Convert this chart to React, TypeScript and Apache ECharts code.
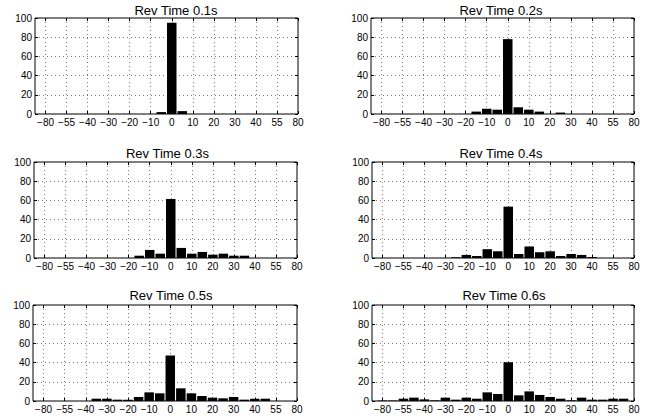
import React, { useEffect, useRef } from "react";
import * as echarts from "echarts";

// ---- data ----
const TITLES = [
  "Rev Time 0.1s",
  "Rev Time 0.2s",
  "Rev Time 0.3s",
  "Rev Time 0.4s",
  "Rev Time 0.5s",
  "Rev Time 0.6s",
];

const X_TICK_LABELS = ["−80", "−55", "−40", "−30", "−20", "−10", "0", "10", "20", "30", "40", "55", "80"];
const X_TICK_POS = [-12, -10, -8, -6, -4, -2, 0, 2, 4, 6, 8, 10, 12];
const BIN_POS = [-12, -11, -10, -9, -8, -7, -6, -5, -4, -3, -2, -1, 0, 1, 2, 3, 4, 5, 6, 7, 8, 9, 10, 11, 12];

//                 -12 -11 -10 -9  -8  -7  -6  -5  -4  -3   -2   -1    0     1     2    3    4    5    6    7    8    9   10   11  12
const REV_01 = [0, 0, 0, 0, 0, 0, 0, 0, 0, 0, 0, 2, 95, 3, 0, 0, 0, 0, 0, 0, 0, 0, 0, 0, 0];
const REV_02 = [0, 0, 0, 0, 0, 0, 0, 0, 0, 2.5, 5.5, 4.5, 78, 7, 4.5, 2.5, 0, 1.5, 0, 0, 0, 0, 0, 0, 0];
const REV_03 = [0, 0, 0, 0, 0, 0, 0, 0, 0, 2.4, 8.4, 4.5, 61.5, 10.5, 4.5, 6.3, 3.5, 4.5, 2.4, 2.4, 0, 0, 0, 0, 0];
const REV_04 = [0, 0, 0, 0, 0, 0, 0, 0.7, 3.2, 2.1, 9.2, 7, 53.5, 4.2, 12, 6, 7, 2.1, 4.2, 3.2, 1, 0, 0, 0, 0];
const REV_05 = [0, 0, 0, 0, 0, 2.4, 2.4, 1.4, 1.4, 4.2, 9, 8, 47.4, 13.2, 8, 5.2, 3.5, 2.8, 4.2, 1.4, 2.4, 2.4, 0, 0, 0];
const REV_06 = [0.5, 0.5, 2.4, 3.5, 1.7, 0.7, 3.5, 1.4, 3.5, 2.4, 9, 7.3, 40.4, 5.9, 10, 6.3, 4.2, 2.4, 0.7, 3.5, 1.4, 1.4, 2.4, 2.4, 0];

const SERIES_VALUES = [REV_01, REV_02, REV_03, REV_04, REV_05, REV_06];

// ---- layout ----
const GRID_BOXES = [
  { left: 35, top: 18, width: 263, height: 96 },
  { left: 371, top: 18, width: 263, height: 96 },
  { left: 34, top: 162, width: 263, height: 96 },
  { left: 372, top: 162, width: 262, height: 96 },
  { left: 33, top: 305, width: 264, height: 96 },
  { left: 372, top: 305, width: 262, height: 96 },
];
const TITLE_POS = [
  { x: 176, y: 10 },
  { x: 501, y: 10 },
  { x: 167.5, y: 153 },
  { x: 501, y: 153 },
  { x: 171, y: 295 },
  { x: 504, y: 295 },
];

const FONT = "'Liberation Sans', Arial, Helvetica, sans-serif";

function labelFor(v: number): string {
  const i = X_TICK_POS.indexOf(Math.round(v));
  return i >= 0 ? X_TICK_LABELS[i] : "";
}

export default function App() {
  const ref = useRef<HTMLDivElement>(null);

  useEffect(() => {
    if (!ref.current) return;
    const chart = echarts.init(ref.current, undefined, { renderer: "svg" });

    const grid: any[] = [];
    const xAxis: any[] = [];
    const yAxis: any[] = [];
    const series: any[] = [];
    const graphic: any[] = [];

    const gridLine = { show: true, lineStyle: { color: "#777", type: [1, 3], width: 1 } };
    const noLine = { show: false, onZero: false };
    const tick = { show: true, inside: true, length: 3, lineStyle: { color: "#000" } };

    GRID_BOXES.forEach((g, i) => {
      grid.push({
        ...g,
        show: true,
        borderColor: "#000",
        borderWidth: 1,
        backgroundColor: "#fff",
        containLabel: false,
      });
      xAxis.push({
        type: "value",
        gridIndex: i,
        min: -13,
        max: 12,
        axisLine: noLine,
        axisTick: { ...tick, customValues: X_TICK_POS },
        axisLabel: {
          show: true,
          customValues: X_TICK_POS,
          formatter: (v: number) => labelFor(v),
          color: "#000",
          fontSize: 10,
          fontFamily: FONT,
          margin: 3,
        },
        splitLine: gridLine,
      });
      xAxis.push({
        type: "value",
        gridIndex: i,
        position: "top",
        min: -13,
        max: 12,
        axisLine: noLine,
        axisTick: { ...tick, customValues: X_TICK_POS },
        axisLabel: { show: false, customValues: X_TICK_POS },
        splitLine: { show: false },
      });
      yAxis.push({
        type: "value",
        gridIndex: i,
        position: "left",
        min: 0,
        max: 100,
        interval: 20,
        axisLine: noLine,
        axisTick: tick,
        axisLabel: { color: "#000", fontSize: 10, fontFamily: FONT, margin: 3 },
        splitLine: gridLine,
      });
      yAxis.push({
        type: "value",
        gridIndex: i,
        position: "right",
        min: 0,
        max: 100,
        interval: 20,
        axisLine: noLine,
        axisTick: tick,
        axisLabel: { show: false },
        splitLine: { show: false },
      });

      series.push({
        type: "bar",
        xAxisIndex: i * 2,
        yAxisIndex: i * 2,
        data: BIN_POS.map((p, k) => [p, SERIES_VALUES[i][k]]),
        barWidth: 9.5,
        itemStyle: { color: "#000" },
        clip: true,
        silent: true,
      });

      graphic.push({
        type: "text",
        x: TITLE_POS[i].x,
        y: TITLE_POS[i].y,
        style: {
          text: TITLES[i],
          fill: "#000",
          font: `13px ${FONT}`,
          textAlign: "center",
          textVerticalAlign: "middle",
          verticalAlign: "middle",
        },
      });
    });

    chart.setOption({
      animation: false,
      backgroundColor: "#fff",
      grid,
      xAxis,
      yAxis,
      series,
      graphic,
    });

    return () => chart.dispose();
  }, []);

  return (
    <div
      ref={ref}
      style={{ position: "absolute", left: 0, top: 0, width: 652, height: 418, background: "#fff" }}
    />
  );
}
